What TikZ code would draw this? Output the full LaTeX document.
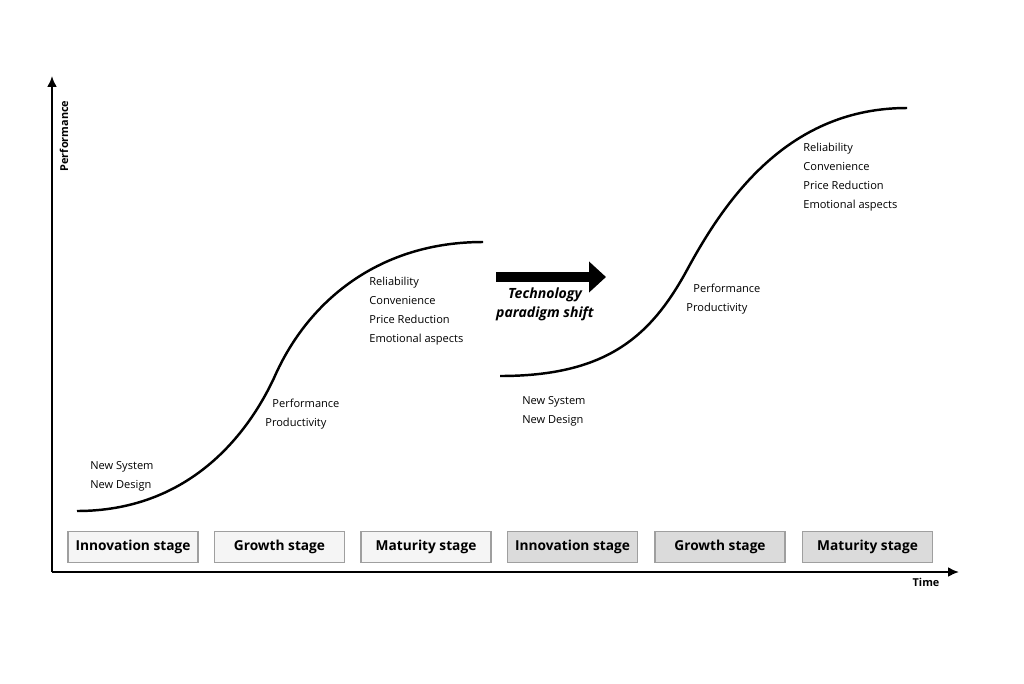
\documentclass[tikz,border=0pt]{standalone}
\usepackage{fontspec}
\setmainfont{Open Sans}
\usetikzlibrary{arrows.meta}

\tikzset{
  stagebox/.style={draw=gray!75, line width=0.6pt, minimum width=130*0.02cm, minimum height=31*0.02cm,
    inner sep=0pt, font=\fontsize{7.8}{10}\selectfont\bfseries},
  oldstage/.style={stagebox, fill=gray!8},
  newstage/.style={stagebox, fill=gray!28},
  note/.style={anchor=west, align=left, inner sep=0pt, font=\fontsize{6.3}{10.8}\selectfont}
}

\begin{document}
\begin{tikzpicture}[x=0.02cm,y=-0.02cm]
  \useasboundingbox (0,0) rectangle (1024,683);
  % axes
  \coordinate (o) at (52,572);
  \coordinate (ytop) at (52,76);
  \coordinate (xend) at (959,572);
  \draw[-{Latex[length=11pt*0.569,width=10pt*0.569]},line width=1.2pt] (o) -- (ytop);
  \draw[-{Latex[length=11pt*0.569,width=10pt*0.569]},line width=1.2pt] (o) -- (xend);
  \draw (64,136) node[rotate=90, inner sep=0pt, font=\fontsize{6.2}{7}\selectfont\bfseries] (perf) {Performance}
   (926,582) node[inner sep=0pt, font=\fontsize{6.2}{7}\selectfont\bfseries] (time) {Time};

  % stage boxes
  \draw (133,547) node[oldstage] (inno1) {Innovation stage}
   (279.5,547) node[oldstage] (grow1) {Growth stage}
   (426,547) node[oldstage] (matu1) {Maturity stage}
   (572.5,547) node[newstage] (inno2) {Innovation stage}
   (720,547) node[newstage] (grow2) {Growth stage}
   (867.5,547) node[newstage] (matu2) {Maturity stage};

  % s-curves
  \draw[line width=1.4pt] (77,511) .. controls (185,511) and (245,440) .. (274,378)
    .. controls (308,300) and (380,242) .. (483,242);
  \draw[line width=1.4pt] (500,376) .. controls (605,376) and (650,338) .. (687,270)
    .. controls (727,196) and (790,108) .. (907,108);

  % stage notes
  \draw (90,476.5) node[note] (design1) {New System\\New Design}
   (265,414.5) node[note] (prod1) {\hspace*{4pt}Performance\\Productivity}
   (369,311.5) node[note] (rel1) {Reliability\\Convenience\\Price Reduction\\Emotional aspects}
   (522,411.5) node[note] (design2) {New System\\New Design}
   (686,299) node[note] (prod2) {\hspace*{4pt}Performance\\Productivity}
   (803,177.5) node[note] (rel2) {Reliability\\Convenience\\Price Reduction\\Emotional aspects};

  % paradigm shift
  \coordinate (sa) at (496,277);
  \coordinate (sb) at (606,277);
  \draw[-{Triangle[length=17*0.569pt,width=30*0.569pt]},line width=10*0.569pt] (sa) -- (sb);
  \draw (545,304.5) node[align=center, inner sep=0pt, font=\fontsize{8}{10.8}\selectfont\bfseries\itshape] (shift) {Technology\\paradigm shift};
\end{tikzpicture}
\end{document}
